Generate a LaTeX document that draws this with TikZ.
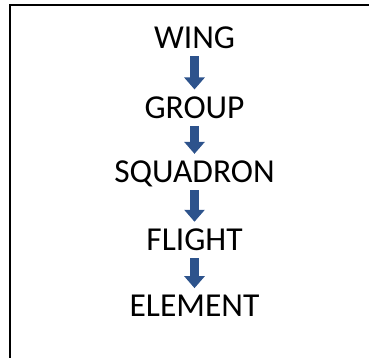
\documentclass[tikz,border=0pt]{standalone}
\usepackage{fontspec}
\setmainfont{Carlito}
\usepackage{tikz}
\usetikzlibrary{arrows.meta,positioning}
\definecolor{arrowblue}{RGB}{45,83,140}

\begin{document}
\begin{tikzpicture}[
    x=1pt, y=-1pt,
    font=\fontsize{33.5}{40}\selectfont,
    rank/.style={
		rectangle,
		inner sep=0pt,
		text height=21.5pt,
		text depth=0pt,
		text=black
	},
	down/.style={
		draw=arrowblue,
		line width=9pt,
		-{Triangle[width=20pt,length=12pt]},
		shorten <=7.5pt,
		shorten >=7pt
	},
	frame/.style={
		draw=black,
		line width=2pt
	}
  ]
  \useasboundingbox (0,0) rectangle (369,358);
    % the open frame round the list
  \draw [frame] (10,358) -- (10,5) -- (369,5);

    % We start by placing the ranks
  \node [rank] (wing) at (194.5,38) {WING};
  \node [rank, below=47.5pt of wing] (group) {GROUP};
  \node [rank, below=42.5pt of group] (squadron) {SQUADRON};
  \node [rank, below=46pt of squadron] (flight) {FLIGHT};
  \node [rank, below=44.5pt of flight] (element) {ELEMENT};

 \draw [down] (wing) -- (group);
 \draw [down] (group) -- (squadron);
 \draw [down] (squadron) -- (flight);
 \draw [down] (flight) -- (element);

\end{tikzpicture}
\end{document}
